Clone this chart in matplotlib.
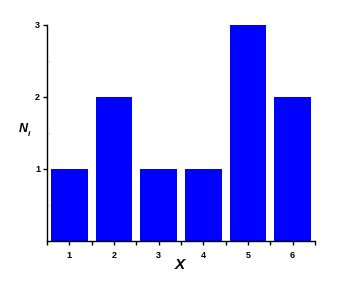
import numpy as np
import matplotlib
matplotlib.use('Agg')
import matplotlib.pyplot as plt

# data
xValues = [1, 2, 3, 4, 5, 6]
counts = [1, 2, 1, 1, 3, 2]
yTicks = [1, 2, 3]

plt.rcParams['font.family'] = ['Liberation Sans', 'DejaVu Sans']

fig = plt.figure(figsize=(3.6, 2.9), dpi=100)
ax = fig.add_axes([0.1306, 0.169, 0.7444, 0.745])

ax.bar(xValues, counts, width=0.82, color='#0000ff', edgecolor='none')

ax.set_xlim(0.5, 6.5)
ax.set_ylim(0, 3)

# spines: only left and bottom
for side in ['top', 'right']:
    ax.spines[side].set_visible(False)
ax.spines['left'].set_linewidth(1.0)
ax.spines['bottom'].set_linewidth(1.0)

ax.set_xticks(xValues)
ax.set_xticks(np.arange(0.5, 7.0, 1.0), minor=True)
ax.set_yticks(yTicks)
ax.set_yticks([0.5, 1.5, 2.5], minor=True)

ax.tick_params(axis='x', which='major', direction='out', length=3, width=1, pad=4,
               labelsize=6.5)
ax.tick_params(axis='x', which='minor', direction='out', length=3, width=1)
ax.tick_params(axis='y', which='major', direction='out', length=3, width=1, pad=2,
               labelsize=6.5)
ax.tick_params(axis='y', which='minor', direction='in', length=2, width=0.8,
               color='#dddddd')
for lab in ax.get_xticklabels() + ax.get_yticklabels():
    lab.set_fontweight('bold')

# axis titles
fig.text(180 / 360, 1 - 265 / 290, 'X', fontsize=11, fontweight='bold', fontstyle='italic',
         ha='center', va='center')
fig.text(23 / 360, 1 - 129 / 290, 'N', fontsize=9, fontweight='bold', fontstyle='italic',
         ha='center', va='center')
fig.text(29 / 360, 1 - 134 / 290, 'i', fontsize=6, fontweight='bold', fontstyle='italic',
         ha='center', va='center')

fig.savefig('out.png', dpi=100)
